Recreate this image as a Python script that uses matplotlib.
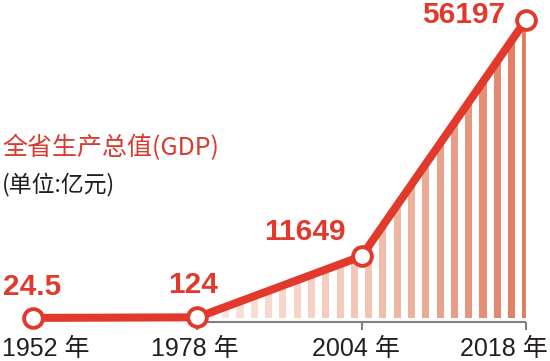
import numpy as np
import matplotlib
matplotlib.use('Agg')
import matplotlib.pyplot as plt
from matplotlib.patches import Polygon
from matplotlib.colors import LinearSegmentedColormap

# ---- data ----
years = ['1952', '1978', '2004', '2018']
gdp = [24.5, 124, 11649, 56197]
value_labels = ['24.5', '124', '11649', '56197']
title = '全省生产总值(GDP)'
subtitle = '(单位:亿元)'
year_suffix = ' 年'

RED = '#e2392d'
W, H = 550, 361

fig = plt.figure(figsize=(W / 100, H / 100), dpi=100)
ax = fig.add_axes([0, 0, 1, 1])
ax.axis('off')

x = np.arange(len(years))
px_per_unit = 164.3
x0_px = 33
ax.set_xlim(-x0_px / px_per_unit, (W - x0_px) / px_per_unit)
vpp = gdp[-1] / 298.0          # value per pixel
ax.set_ylim(-43 * vpp, gdp[-1] + 20 * vpp)

# ---- decorative stripes under the line ----
n_str = 23
x_str = x[-1] - 0.087 * np.arange(n_str)[::-1]
cmap = LinearSegmentedColormap.from_list('s', ['#fae6de', '#f2c4b3', '#df7c60'])
cols = [cmap(t) for t in np.linspace(0, 1, n_str)]
top = ax.get_ylim()[1]
bars = ax.bar(x_str, top, width=0.043, bottom=0, color=cols, zorder=1,
              linewidth=0)
poly = Polygon(np.column_stack([np.r_[x[0], x, x[-1]], np.r_[0, gdp, 0]]),
               closed=True, transform=ax.transData,
               facecolor='none', edgecolor='none')
ax.add_patch(poly)
for b in bars:
    b.set_clip_path(poly)

# ---- baseline axis with ticks ----
base = -4 * vpp
ax.plot([x[1], x[-1]], [base, base], color='#808080', lw=1.5, zorder=2,
        solid_capstyle='butt')
ax.vlines(x[1:], base - 8 * vpp, base, color='#808080', lw=1.5, zorder=2)

# ---- main line ----
ax.plot(x, gdp, color=RED, lw=5.8, zorder=3, solid_capstyle='butt',
        marker='o', ms=13.5, mfc='white', mec=RED, mew=2.8)

# ---- value labels ----
val_off = [(-1, 23, 'center'), (-4, 24, 'center'), (-16, 16, 'right'),
           (-21, -3, 'right')]
for xi, v, lab, (dx, dy, ha) in zip(x, gdp, value_labels, val_off):
    ax.annotate(lab, (xi, v), xytext=(dx, dy), textcoords='offset pixels',
                ha=ha, va='baseline', color=RED, fontsize=21.5,
                fontweight='bold', family=['Liberation Sans', 'DejaVu Sans'],
                zorder=5)

# ---- year labels ----
yr_off = [-31, -46, -50, -66]
for xi, yr, dx in zip(x, years, yr_off):
    ax.annotate(yr + year_suffix, (xi, 0), xytext=(dx, -38),
                textcoords='offset pixels', ha='left', va='baseline',
                color='#231f20', fontsize=18,
                family=['Liberation Sans', 'Noto Sans CJK SC'],
                annotation_clip=False)

# ---- titles ----
fig.text(2 / W, 1 - 155 / H, title, ha='left', va='baseline', color='#d93a30',
         fontsize=18, family=['Noto Sans CJK SC', 'DejaVu Sans'])
fig.text(2 / W, 1 - 191 / H, subtitle, ha='left', va='baseline',
         color='#231f20', fontsize=16.5, family=['Noto Sans CJK SC', 'DejaVu Sans'])

fig.savefig('out.png', dpi=100)
